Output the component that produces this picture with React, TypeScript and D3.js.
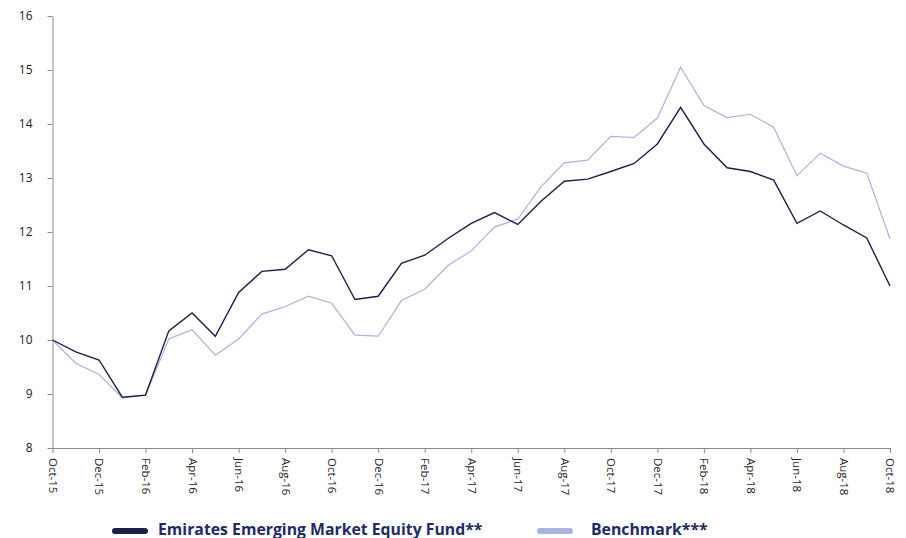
import React, { useEffect, useRef } from "react";
import * as d3 from "d3";

const width = 906;
const height = 538;

// monthly points, Oct-15 .. Oct-18
const months = [
  "Oct-15", "Nov-15", "Dec-15", "Jan-16", "Feb-16", "Mar-16", "Apr-16", "May-16", "Jun-16",
  "Jul-16", "Aug-16", "Sep-16", "Oct-16", "Nov-16", "Dec-16", "Jan-17", "Feb-17", "Mar-17",
  "Apr-17", "May-17", "Jun-17", "Jul-17", "Aug-17", "Sep-17", "Oct-17", "Nov-17", "Dec-17",
  "Jan-18", "Feb-18", "Mar-18", "Apr-18", "May-18", "Jun-18", "Jul-18", "Aug-18", "Sep-18",
  "Oct-18",
];

const fund = [
  10.0, 9.78, 9.63, 8.94, 8.98, 10.17, 10.5, 10.07, 10.88, 11.27, 11.31, 11.67, 11.56,
  10.75, 10.81, 11.42, 11.57, 11.88, 12.16, 12.36, 12.14, 12.57, 12.94, 12.98, 13.12,
  13.27, 13.63, 14.31, 13.63, 13.19, 13.12, 12.96, 12.16, 12.39, 12.13, 11.89, 11.0,
];

const benchmark = [
  10.0, 9.57, 9.36, 8.93, 8.98, 10.02, 10.19, 9.72, 10.02, 10.48, 10.62, 10.81, 10.68,
  10.09, 10.07, 10.73, 10.94, 11.38, 11.65, 12.09, 12.24, 12.84, 13.28, 13.33, 13.77,
  13.75, 14.11, 15.05, 14.34, 14.12, 14.18, 13.94, 13.04, 13.46, 13.22, 13.09, 11.87,
];

const yTicks = [8, 9, 10, 11, 12, 13, 14, 15, 16];

const seriesNames = ["Emirates Emerging Market Equity Fund**", "Benchmark***"];
const seriesColors = ["#1b1f4b", "#a8b3e0"];

const App = () => {
  const svgRef = useRef<SVGSVGElement | null>(null);

  useEffect(() => {
    const svg = d3.select(svgRef.current);
    svg.selectAll("*").remove();

    const margin = { top: 16, right: 16, bottom: 90, left: 52.5 };
    const innerWidth = 890 - margin.left;
    const innerHeight = 448 - margin.top;

    const g = svg
      .append("g")
      .attr("transform", `translate(${margin.left},${margin.top})`);

    const xScale = d3.scalePoint().domain(months).range([0, innerWidth]);
    const yScale = d3.scaleLinear().domain([8, 16]).range([innerHeight, 0]);

    // x axis, ticks every second month
    const xAxis = d3
      .axisBottom(xScale)
      .tickValues(months.filter((d, i) => i % 2 === 0))
      .tickSize(5)
      .tickSizeOuter(0);
    const gx = g
      .append("g")
      .attr("transform", `translate(0,${innerHeight})`)
      .call(xAxis);
    gx.select(".domain").attr("stroke", "#8a8a8a");
    gx.selectAll(".tick line").attr("stroke", "#8a8a8a");
    gx.selectAll(".tick text")
      .attr("transform", "rotate(90)")
      .attr("x", 10)
      .attr("y", 0)
      .attr("dy", "0.35em")
      .style("text-anchor", "start")
      .style("font-family", "'Open Sans', sans-serif")
      .style("font-size", "11.5px")
      .attr("fill", "#222");

    // y axis
    const yAxis = d3.axisLeft(yScale).tickValues(yTicks).tickSize(5).tickSizeOuter(0).tickPadding(15);
    const gy = g.append("g").call(yAxis);
    gy.select(".domain").attr("stroke", "#8a8a8a");
    gy.selectAll(".tick line").attr("stroke", "#8a8a8a");
    gy.selectAll(".tick text")
      .style("font-family", "'Open Sans', sans-serif")
      .style("font-size", "12px")
      .attr("fill", "#222");

    const line = d3
      .line<number>()
      .x((d, i) => xScale(months[i]) as number)
      .y((d) => yScale(d));

    [benchmark, fund].forEach((values) => {
      const idx = values === fund ? 0 : 1;
      g.append("path")
        .datum(values)
        .attr("fill", "none")
        .attr("stroke", seriesColors[idx])
        .attr("stroke-width", idx === 0 ? 1.4 : 1.2)
        .attr("stroke-linejoin", "miter")
        .attr("d", line);
    });

    // legend
    const legendX = [112, 537];
    const legendTextX = [158, 591];
    const legend = svg.append("g");
    seriesNames.forEach((name, i) => {
      legend
        .append("line")
        .attr("x1", legendX[i] + 3)
        .attr("x2", legendX[i] + 33)
        .attr("y1", 531)
        .attr("y2", 531)
        .attr("stroke", seriesColors[i])
        .attr("stroke-width", 6)
        .attr("stroke-linecap", "round");
      legend
        .append("text")
        .attr("x", legendTextX[i])
        .attr("y", 534.5)
        .attr("fill", "#1f2a66")
        .style("font-family", "'Open Sans', sans-serif")
        .style("font-weight", "bold")
        .style("font-size", "15.8px")
        .text(name);
    });
  }, []);

  return <svg ref={svgRef} width={width} height={height} style={{ display: "block", position: "absolute", left: 0, top: 0 }}></svg>;
};

export default App;
